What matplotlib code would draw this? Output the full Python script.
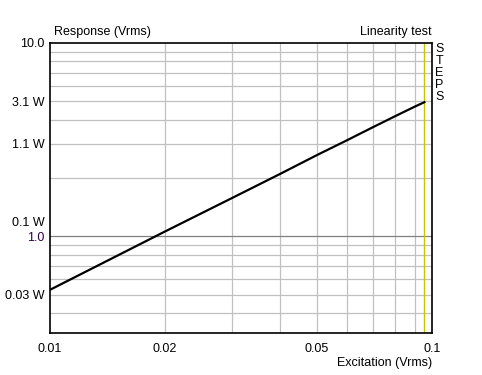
import numpy as np
import matplotlib
matplotlib.use("Agg")
import matplotlib.pyplot as plt

# response curve
exc = [0.01, 0.015, 0.02, 0.03, 0.04, 0.05, 0.06, 0.07, 0.08, 0.09, 0.0955]
resp = [0.53, 0.795, 1.06, 1.58, 2.1, 2.63, 3.14, 3.66, 4.17, 4.67, 4.93]

x_ticks = [0.01, 0.02, 0.05, 0.1]
x_labels = ["0.01", "0.02", "0.05", "0.1"]
x_grid = [0.02, 0.03, 0.04, 0.05, 0.06, 0.07, 0.08, 0.09]

y_ticks = [10.0, 5.0, 3.0, 1.19, 1.0, 0.5]
y_labels = ["10.0", "3.1 W", "1.1 W", "0.1 W", "1.0", "0.03 W"]
y_grid = [2, 3, 4, 5, 6, 7, 8, 9, 0.4, 0.5, 0.6, 0.7, 0.8, 0.9]

step_x = 0.0955

plt.rcParams['font.family'] = ['Liberation Sans', 'DejaVu Sans']
plt.rcParams['font.size'] = 9

W, H = 482, 375
fig = plt.figure(figsize=(W / 100, H / 100), dpi=100)
L, R, T, B = 50, 432, 42.7, 333.3
ax = fig.add_axes([L / W, 1 - B / H, (R - L) / W, (B - T) / H])

ax.set_xscale('log')
ax.set_yscale('log')
ax.set_xlim(0.01, 0.1)
ax.set_ylim(0.316, 10.0)

for gx in x_grid:
    ax.axvline(gx, color='#c0c0c0', lw=0.9, zorder=1)
for gy in y_grid:
    ax.axhline(gy, color='#c0c0c0', lw=0.9, zorder=1)
ax.axhline(1.0, color='#808080', lw=0.9, zorder=1.5)

ax.axvline(step_x, color='#c8c400', lw=1.0, zorder=2)
ax.plot(exc, resp, color='black', lw=1.6, zorder=3)

ax.xaxis.set_minor_locator(matplotlib.ticker.NullLocator())
ax.yaxis.set_minor_locator(matplotlib.ticker.NullLocator())
ax.set_xticks(x_ticks)
ax.set_xticklabels(x_labels)
ax.set_yticks(y_ticks)
ax.set_yticklabels(y_labels)
ax.tick_params(axis='both', length=0)
ax.tick_params(axis='y', pad=4)
ax.tick_params(axis='x', pad=7)
ax.get_yticklabels()[4].set_color('#300040')

for s in ax.spines.values():
    s.set_linewidth(1.2)
    s.set_color('black')

fig.text(54 / W, 1 - 32 / H, "Response (Vrms)", ha='left', va='center')
fig.text(432 / W, 1 - 32 / H, "Linearity test", ha='right', va='center')
fig.text(432 / W, 1 - 362.7 / H, "Excitation (Vrms)", ha='right', va='center')

for i, ch in enumerate("STEPS"):
    fig.text(439.5 / W, 1 - (49 + i * 11.9) / H, ch, ha='center', va='center')

fig.savefig("out.png", dpi=100)
